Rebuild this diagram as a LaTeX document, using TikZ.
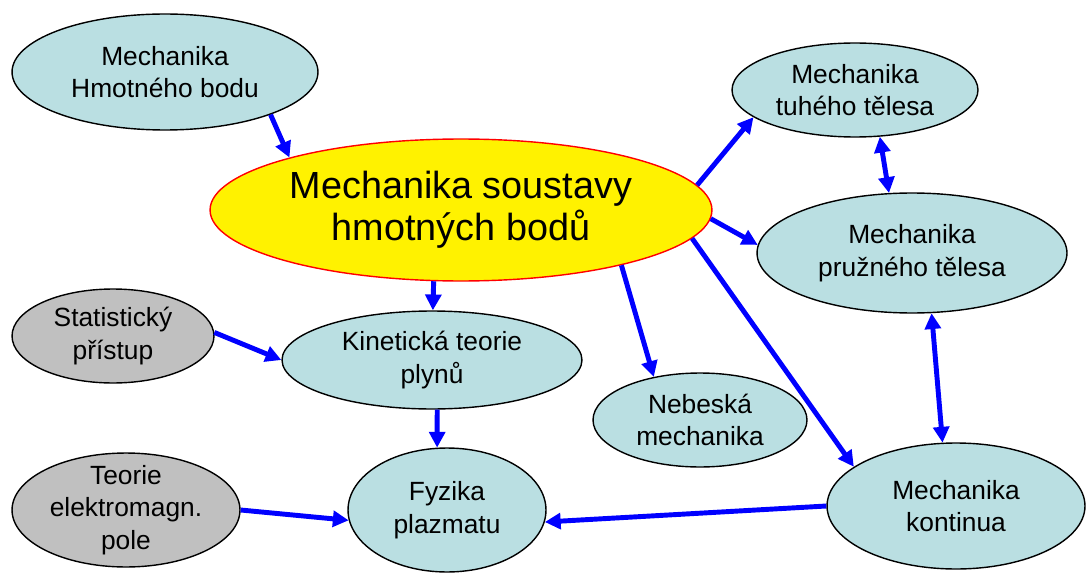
\documentclass[tikz,border=0pt]{standalone}
\usepackage{fontspec}
\setmainfont{Liberation Sans}
\usetikzlibrary{shapes.geometric,arrows.meta}
\definecolor{bubblue}{RGB}{186,223,226}
\definecolor{bubgray}{RGB}{192,192,192}
\definecolor{arrblue}{RGB}{0,0,255}
\tikzstyle{bubble}=[ellipse,draw=black,line width=0.8pt,fill=bubblue,inner sep=-3pt,align=center,font=\fontsize{15}{18.5}\selectfont]
\tikzstyle{greybubble}=[bubble,fill=bubgray]
\tikzstyle{mainbubble}=[bubble,draw=red,fill=yellow,font=\fontsize{21.5}{24}\selectfont]
\tikzstyle{link}=[draw=arrblue,line width=2.8pt,-{Triangle[length=9pt,width=9pt]}]
\tikzstyle{bothlink}=[link,{Triangle[length=9pt,width=9pt]}-{Triangle[length=9pt,width=9pt]}]

\begin{document}
\begin{tikzpicture}[x=0.02cm,y=-0.02cm]
\useasboundingbox (0,0) rectangle (1087,574);

% bubbles
\node[bubble,minimum width=6.12cm,minimum height=2.32cm] (hmot) at (165,72) {Mechanika\\Hmotného bodu};
\node[mainbubble,minimum width=10.04cm,minimum height=2.84cm] (sous) at (461,210) {Mechanika soustavy\\hmotných bodů};
\node[bubble,minimum width=4.92cm,minimum height=1.88cm] (tuhe) at (855,90) {Mechanika\\tuhého tělesa};
\node[bubble,minimum width=6.2cm,minimum height=2.4cm] (pruz) at (912,253) {Mechanika\\pružného tělesa};
\node[greybubble,minimum width=4.04cm,minimum height=1.88cm] (stat) at (113,336) {Statistický\\přístup};
\node[bubble,minimum width=6cm,minimum height=1.96cm] (kin) at (432,360) {Kinetická teorie\\plynů};
\node[bubble,minimum width=4.28cm,minimum height=1.88cm] (neb) at (700,420) {Nebeská\\mechanika};
\node[greybubble,minimum width=4.56cm,minimum height=2.28cm] (elmag) at (126,510) {Teorie\\elektromagn.\\pole};
\node[bubble,minimum width=3.96cm,minimum height=2.48cm] (plaz) at (447,510) {Fyzika\\plazmatu};
\node[bubble,minimum width=5.16cm,minimum height=2.52cm] (kont) at (956,506) {Mechanika\\kontinua};

% arrows
\draw[link] (hmot.-22) -- (sous.163);
\draw[link] (sous.6) -- (tuhe.195);
\draw[link] (sous.-2) -- (pruz.177);
\draw[bothlink] (tuhe.-62) -- (pruz.111);
\draw[link] (sous.-111) -- (kin.89);
\draw[link] (sous.-19) -- (neb.137);
\draw[link] (sous.-7) -- (kont.159);
\draw[link] (stat.2) -- (kin.180);
\draw[link] (kin.-84) -- (plaz.99);
\draw[bothlink] (pruz.-72) -- (kont.102);
\draw[link] (elmag.0) -- (plaz.186);
\draw[link] (kont.180) -- (plaz.-7);
\end{tikzpicture}
\end{document}
